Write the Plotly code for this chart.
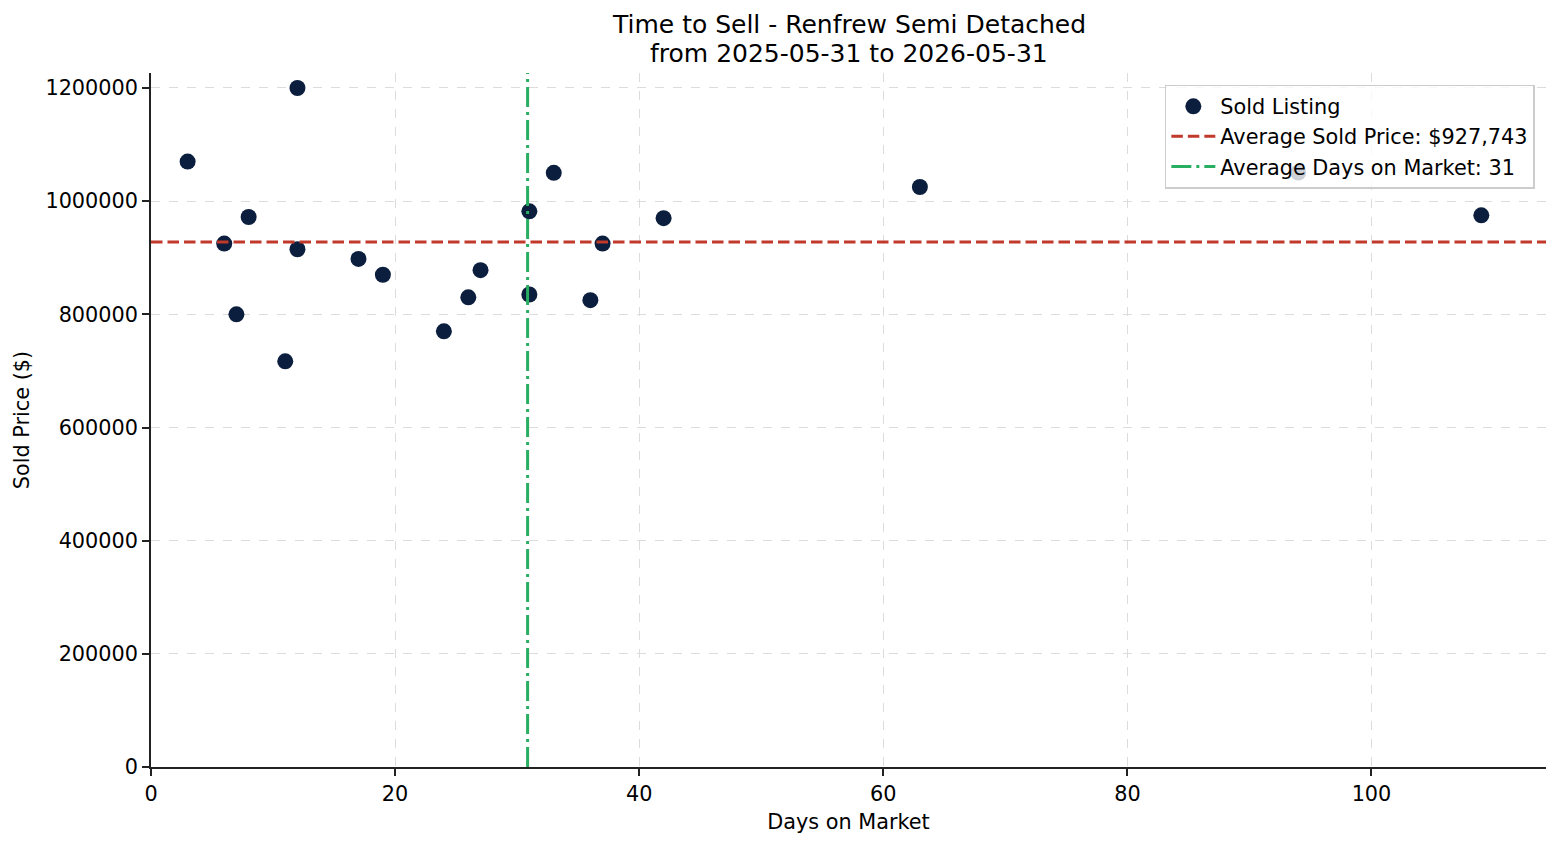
import plotly.graph_objects as go

# Data
days_on_market = [3, 12, 6, 8, 7, 11, 12, 17, 19, 24, 26, 27, 31, 31, 33, 36, 37, 42, 63, 94, 109]
sold_price = [1070000, 1200000, 925000, 972000, 800000, 717000, 915000, 898000, 870000,
              770000, 830000, 878000, 982000, 835000, 1050000, 825000, 925000, 970000,
              1025000, 1050600, 975000]
x_ticks = [0, 20, 40, 60, 80, 100]
y_ticks = [0, 200000, 400000, 600000, 800000, 1000000, 1200000]
title_lines = ["Time to Sell - Renfrew Semi Detached", "from 2025-05-31 to 2026-05-31"]

avg_price = sum(sold_price) / len(sold_price)
avg_days = sum(days_on_market) / len(days_on_market)

FONT = "DejaVu Sans"
NAVY = "#0b1e3d"
RED = "#c0392b"
GREEN = "#27ae60"

xmax = max(days_on_market) + 0.05 * (max(days_on_market) - min(days_on_market))
ymax = 1226500

fig = go.Figure()
fig.add_trace(go.Scatter(
    x=days_on_market, y=sold_price, mode="markers", name="Sold Listing",
    marker=dict(color=NAVY, size=16, line=dict(width=0)),
))
fig.add_trace(go.Scatter(
    x=[None], y=[None], mode="lines", name=f"Average Sold Price: ${avg_price:,.0f}",
    line=dict(color=RED, width=3, dash="11.5px,5px"),
))
fig.add_trace(go.Scatter(
    x=[None], y=[None], mode="lines", name=f"Average Days on Market: {avg_days:.0f}",
    line=dict(color=GREEN, width=3, dash="20px,5px,3px,5px"),
))
fig.add_hline(y=avg_price, line=dict(color=RED, width=3, dash="11.5px,5px"), layer="above")
fig.add_vline(x=avg_days, line=dict(color=GREEN, width=3, dash="20px,5px,3px,5px"), layer="above")

axis_common = dict(
    showline=True, linecolor="#222222", linewidth=1.6,
    ticks="outside", ticklen=7, tickwidth=1.6, tickcolor="#222222",
    showgrid=True, gridcolor="#dcdcdc", gridwidth=1, griddash="dash",
    zeroline=False, mirror=False,
    tickfont=dict(family=FONT, size=20.8, color="#000000"),
)

for i, (line, ypos) in enumerate(zip(title_lines, [1.0692, 1.0274])):
    fig.add_annotation(
        text=line, xref="paper", yref="paper", x=0.5, y=ypos,
        xanchor="center", yanchor="middle", showarrow=False,
        font=dict(family=FONT, size=25, color="#000000"),
    )

fig.update_layout(
    width=1560, height=845,
    margin=dict(l=151, r=14, t=73, b=78),
    paper_bgcolor="white", plot_bgcolor="white",
    font=dict(family=FONT, color="#000000"),
    xaxis=dict(range=[0, xmax], tickvals=x_ticks,
               title=dict(text="Days on Market", font=dict(family=FONT, size=20.8), standoff=10),
               **axis_common),
    yaxis=dict(range=[0, ymax], tickvals=y_ticks, tickformat="d",
               title=dict(text="Sold Price ($)", font=dict(family=FONT, size=20.8), standoff=10),
               **axis_common),
    legend=dict(
        x=0.992, xanchor="right", y=0.983, yanchor="top",
        bgcolor="rgba(255,255,255,0.8)", bordercolor="#cccccc", borderwidth=1.5,
        font=dict(family=FONT, size=20.8, color="#000000"),
        itemwidth=44,
    ),
    showlegend=True,
)

fig.write_html("out.html")
